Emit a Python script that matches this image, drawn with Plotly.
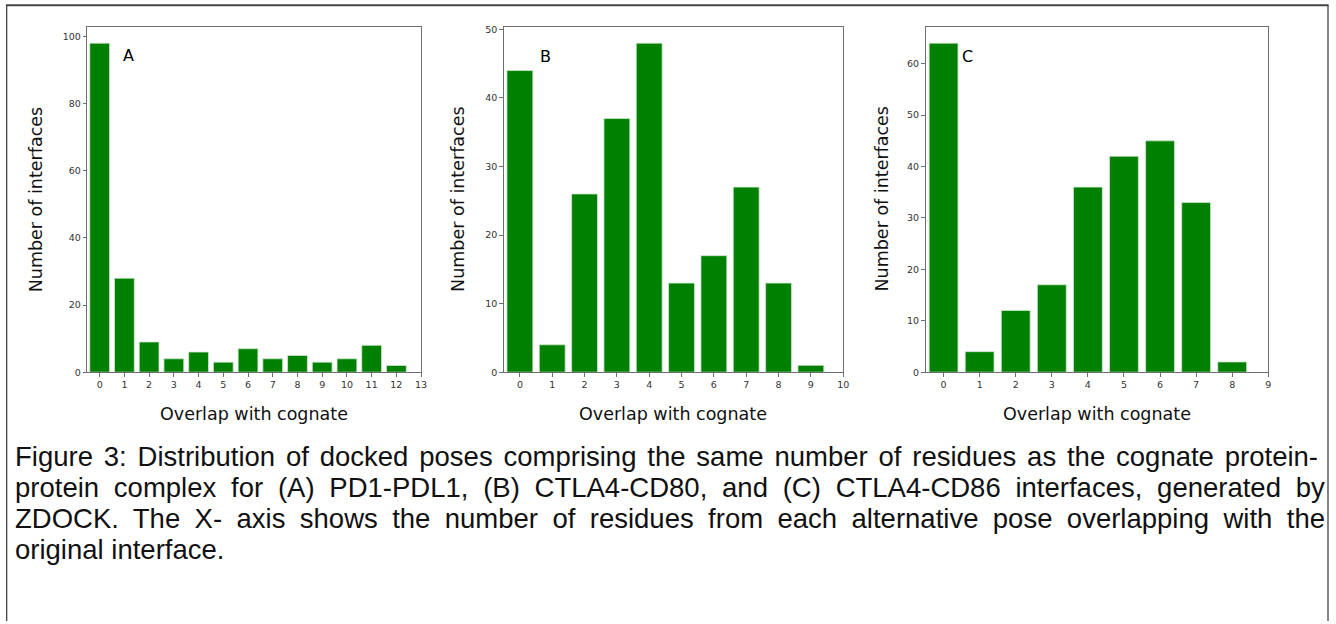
import json
import plotly.graph_objects as go

# ---------------- data ----------------
overlap_a = list(range(13))
counts_a = [98, 28, 9, 4, 6, 3, 7, 4, 5, 3, 4, 8, 2]
overlap_b = list(range(10))
counts_b = [44, 4, 26, 37, 48, 13, 17, 27, 13, 1]
overlap_c = list(range(9))
counts_c = [64, 4, 12, 17, 36, 42, 45, 33, 2]

xticks_a = list(range(14))
xticks_b = list(range(11))
xticks_c = list(range(10))
yticks_a = [0, 20, 40, 60, 80, 100]
yticks_b = [0, 10, 20, 30, 40, 50]
yticks_c = [0, 10, 20, 30, 40, 50, 60]

panel_labels = ["A", "B", "C"]
x_title = "Overlap with cognate"
y_title = "Number of interfaces"
caption_lines = [
    "Figure 3: Distribution of docked poses comprising the same number of residues as the cognate protein-",
    "protein complex for (A) PD1-PDL1, (B) CTLA4-CD80, and (C) CTLA4-CD86 interfaces, generated by",
    "ZDOCK. The X- axis shows the number of residues from each alternative pose overlapping with the",
    "original interface.",
]

# ---------------- layout helpers ----------------
W, H = 1336, 624
def px(x):
    return x / W
def py(y):
    return 1 - y / H

BAR = "#008000"
SPINE = "#6e6e6e"
TICKFONT = dict(family="DejaVu Sans", size=9.5, color="#333333")
MPL = "DejaVu Sans"

panels = [
    dict(x=overlap_a, y=counts_a, xt=xticks_a, yt=yticks_a, xr=[-0.5, 13], yr=[0, 102.9],
         dom=[87.7, 423.0], lab=(0.875, 94.2), ytx=37),
    dict(x=overlap_b, y=counts_b, xt=xticks_b, yt=yticks_b, xr=[-0.5, 10], yr=[0, 50.4],
         dom=[506.0, 847.0], lab=(0.56, 46.1), ytx=460.5),
    dict(x=overlap_c, y=counts_c, xt=xticks_c, yt=yticks_c, xr=[-0.5, 9], yr=[0, 67.2],
         dom=[929.7, 1274.0], lab=(0.45, 61.5), ytx=886),
]

fig = go.Figure()
annotations = []
layout_axes = {}
plot_top, plot_bottom = 24.0, 374.0

for i, p in enumerate(panels):
    n = "" if i == 0 else str(i + 1)
    fig.add_trace(go.Bar(
        x=p["x"], y=p["y"], width=0.8,
        marker=dict(color=BAR, line=dict(color="#cfe6cf", width=0.8)),
        xaxis="x" + n, yaxis="y" + n, showlegend=False, hoverinfo="x+y",
    ))
    layout_axes["xaxis" + n] = dict(
        domain=[px(p["dom"][0]), px(p["dom"][1])], anchor="y" + n,
        range=p["xr"], tickvals=p["xt"], ticktext=[str(v) for v in p["xt"]],
        showline=True, linecolor=SPINE, linewidth=1, mirror=True,
        ticks="outside", ticklen=3.5, tickwidth=0.8, tickcolor=SPINE,
        showgrid=False, zeroline=False, tickfont=TICKFONT,
    )
    layout_axes["yaxis" + n] = dict(
        domain=[py(plot_bottom), py(plot_top)], anchor="x" + n,
        range=p["yr"], tickvals=p["yt"], ticktext=[str(v) for v in p["yt"]],
        showline=True, linecolor=SPINE, linewidth=1, mirror=True,
        ticks="outside", ticklen=3.5, tickwidth=0.8, tickcolor=SPINE,
        showgrid=False, zeroline=False, tickfont=TICKFONT,
    )
    annotations.append(dict(
        x=p["lab"][0], y=p["lab"][1], xref="x" + n, yref="y" + n,
        text=panel_labels[i], showarrow=False, xanchor="left", yanchor="middle",
        font=dict(family=MPL, size=16, color="#000000"),
    ))
    annotations.append(dict(
        x=px((p["dom"][0] + p["dom"][1]) / 2), y=py(416), xref="paper", yref="paper",
        text=x_title, showarrow=False, xanchor="center", yanchor="middle",
        font=dict(family=MPL, size=17.5, color="#111111"),
    ))
    annotations.append(dict(
        x=px(p["ytx"]), y=py((plot_top + plot_bottom) / 2), xref="paper", yref="paper",
        text=y_title, showarrow=False, xanchor="center", yanchor="middle", textangle=-90,
        font=dict(family=MPL, size=17.5, color="#111111"),
    ))

caption_centers = [459, 490.5, 522, 553.5]
for line, cy in zip(caption_lines, caption_centers):
    annotations.append(dict(
        x=px(13), y=py(cy), xref="paper", yref="paper",
        text=line, showarrow=False, xanchor="left", yanchor="middle", align="left",
        font=dict(family="Liberation Sans", size=27.5, color="#111111"),
    ))

shapes = [
    dict(type="line", xref="paper", yref="paper", x0=px(6), x1=px(1334.5), y0=py(2.2), y1=py(2.2),
         line=dict(color="#444444", width=2)),
    dict(type="line", xref="paper", yref="paper", x0=px(6.7), x1=px(6.7), y0=py(2), y1=py(626),
         line=dict(color="#444444", width=1.3)),
    dict(type="line", xref="paper", yref="paper", x0=px(1334), x1=px(1334), y0=py(2), y1=py(626),
         line=dict(color="#444444", width=1.3)),
]

fig.update_layout(
    width=W, height=H, margin=dict(l=0, r=0, t=0, b=0),
    paper_bgcolor="white", plot_bgcolor="white",
    annotations=annotations, shapes=shapes, bargap=0.2,
    **layout_axes,
)

targets = [[caption_lines[0], 1318 - 15], [caption_lines[1], 1325 - 15],
           [caption_lines[2], 1325 - 15]]
justify_js = """
document.body.style.margin = '0';
document.body.style.padding = '0';
document.documentElement.style.overflow = 'hidden';
var gd = document.getElementsByClassName('plotly-graph-div')[0];
var targets = %s;
function justify(){
  var texts = gd.querySelectorAll('.annotation-text');
  texts.forEach(function(t){
    var s = t.textContent;
    targets.forEach(function(tg){
      if (s === tg[0]) {
        t.style.wordSpacing = '0px';
        var w = t.getBBox().width;
        var ns = (s.match(/ /g) || []).length;
        if (ns > 0) { t.style.wordSpacing = ((tg[1] - w) / ns) + 'px'; }
      }
    });
  });
}
justify();
gd.on('plotly_afterplot', justify);
""" % json.dumps(targets)

fig.write_html("out.html", post_script=justify_js, config={"displayModeBar": False})
